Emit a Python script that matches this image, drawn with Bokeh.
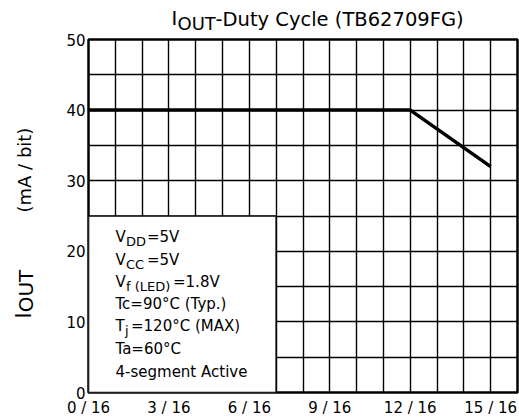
from math import pi
from bokeh.plotting import figure
from bokeh.layouts import column, row
from bokeh.models import Range1d, FixedTicker
from bokeh.core.properties import value
from bokeh.embed import file_html
from bokeh.resources import INLINE

# ---------------- data ----------------
duty_16ths = [0, 12, 15]          # duty cycle in 1/16 units
iout_ma = [40, 40, 32]            # IOUT (mA/bit)

x_tick_values = [0, 3, 6, 9, 12, 15]
x_tick_labels = ["0 / 16", "3 / 16", "6 / 16", "9 / 16", "12 / 16", "15 / 16"]
y_tick_values = [0, 10, 20, 30, 40, 50]
y_tick_labels = ["0", "10", "20", "30", "40", "50"]
x_grid_values = list(range(1, 16))
y_grid_values = [5, 10, 15, 20, 25, 30, 35, 40, 45]

box_x = [0, 7]      # conditions box extent (1/16 units)
box_y = [0, 25]     # conditions box extent (mA)

cond_main = ["V", "V", "V", "Tc=90°C (Typ.)", "T", "Ta=60°C", "4-segment Active"]
cond_sub = ["DD", "CC", "f (LED)", "", "j", "", ""]
cond_tail = ["=5V", "=5V", "=1.8V", "", "=120°C (MAX)", "", ""]

title_main = "I"
title_sub = "OUT"
title_rest = "-Duty Cycle (TB62709FG)"
ylabel_main = "I"
ylabel_sub = "OUT"
ylabel_rest = "(mA / bit)"

# ---------------- layout ----------------
W, H = 519, 420
TOP_H = 33          # title strip height
LEFT_W = 50         # y-label strip width
FONT = "DejaVu Sans"
BASE_FIX = 0.35     # baseline correction (em) for the svg text glyphs

MAIN_W, MAIN_H = W - LEFT_W, H - TOP_H
ML, MR, MT, MB = 88 - LEFT_W, 2, 39 - TOP_H, 28
FL, FR, FT, FB = 88, W - MR, 39, H - MB   # frame in page pixels


def dx(px):
    return (px - FL) / (FR - FL) * 16.0


def dy(py):
    return (FB - py) / (FB - FT) * 50.0


def blank(w, h, xr, yr, **kw):
    f = figure(width=w, height=h, output_backend="svg", toolbar_location=None,
               x_range=xr, y_range=yr,
               x_axis_location=None, y_axis_location=None, **kw)
    f.title.visible = False
    f.grid.visible = False
    f.outline_line_color = None
    f.background_fill_color = "white"
    f.border_fill_color = "white"
    return f


# ---- main plot ----
p = figure(width=MAIN_W, height=MAIN_H, output_backend="svg", toolbar_location=None,
           x_range=Range1d(0, 16), y_range=Range1d(0, 50),
           min_border_left=ML, min_border_right=MR,
           min_border_top=MT, min_border_bottom=MB)
p.title.visible = False
p.background_fill_color = "white"
p.border_fill_color = "white"
p.outline_line_color = "black"
p.outline_line_width = 2.5

for ax in (p.xaxis, p.yaxis):
    ax.axis_line_color = None
    ax.major_tick_line_color = None
    ax.minor_tick_line_color = None
    ax.major_tick_out = 0
    ax.major_tick_in = 0
    ax.minor_tick_out = 0
    ax.minor_tick_in = 0
    ax.major_label_text_font = FONT
    ax.major_label_text_font_size = "15px"
    ax.major_label_text_color = "black"

p.xaxis.ticker = FixedTicker(ticks=x_tick_values)
p.xaxis.major_label_overrides = {v: s for v, s in zip(x_tick_values, x_tick_labels)}
p.xaxis.major_label_standoff = 6
p.yaxis.ticker = FixedTicker(ticks=y_tick_values)
p.yaxis.major_label_overrides = {v: s for v, s in zip(y_tick_values, y_tick_labels)}
p.yaxis.major_label_standoff = 3

p.xgrid.ticker = FixedTicker(ticks=x_grid_values)
p.ygrid.ticker = FixedTicker(ticks=y_grid_values)
for g in (p.xgrid, p.ygrid):
    g.grid_line_color = "black"
    g.grid_line_width = 1.4
    g.grid_line_alpha = 1.0

# conditions box (hides the grid beneath it)
p.quad(left=[box_x[0]], right=[box_x[1]], bottom=[box_y[0]], top=[box_y[1]],
       fill_color="white", line_color="black", line_width=1.6)

# curve
p.line(duty_16ths, iout_ma, line_color="black", line_width=3.5)


def txt(fig, x, y, t, size, angle=0.0):
    fig.text(x=[x], y=[y], text=[t], text_font=value(FONT),
             text_font_size=value(f"{size}px"),
             text_color="black", text_align="left", text_baseline="alphabetic",
             angle=angle)


# conditions text: page-pixel baselines -> data units
base_px = [242, 265, 287, 309, 331, 354, 377]
main_x = 115
sub_x = [125.5, 125.5, 125.5, 0, 124.5, 0, 0]
tail_x = [146.5, 146.5, 172.5, 0, 130.5, 0, 0]


def ptxt(px, py, t, size):
    txt(p, dx(px), dy(py - BASE_FIX * size), t, size)


for i in range(len(cond_main)):
    ptxt(main_x, base_px[i], cond_main[i], 15)
    if cond_sub[i]:
        ptxt(sub_x[i], base_px[i] + 4, cond_sub[i], 13)
    if cond_tail[i]:
        ptxt(tail_x[i], base_px[i], cond_tail[i], 15)

# ---- title strip (data units = page pixels, y up) ----
t = blank(W, TOP_H, Range1d(0, W), Range1d(0, TOP_H), min_border=0)


def ttxt(px, py, s, size):
    txt(t, px, TOP_H - (py - BASE_FIX * size), s, size)


ttxt(171, 24.5, title_main, 19.5)
ttxt(177, 29.5, title_sub, 18)
ttxt(215, 26, title_rest, 19.5)

# ---- y-label strip: same vertical frame as the main plot ----
yl = blank(LEFT_W, MAIN_H, Range1d(0, LEFT_W), Range1d(H - FB, H - FT),
           min_border_left=0, min_border_right=0, min_border_top=MT, min_border_bottom=MB)


def ytxt(bx, py, s, size):
    txt(yl, bx - BASE_FIX * size, H - py, s, size, pi / 2)


ytxt(31, 318, ylabel_main, 21)
ytxt(32, 311.8, ylabel_sub, 20)
ytxt(30, 212, ylabel_rest, 18)

layout = column(t, row(yl, p, spacing=0), spacing=0)

open("out.html", "w").write(file_html(layout, INLINE))
